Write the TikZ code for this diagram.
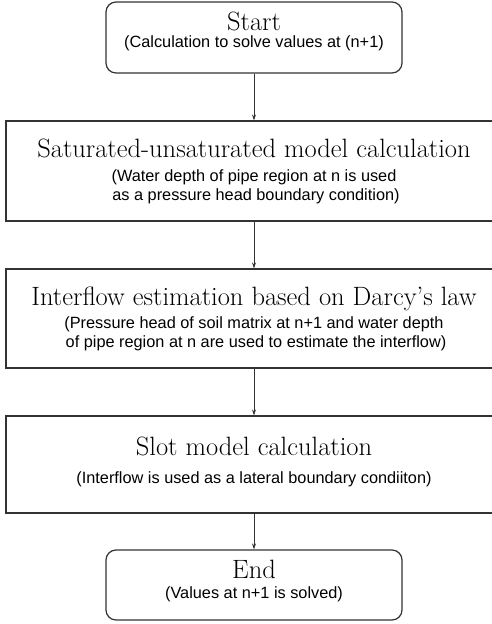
\documentclass[tikz,border=0pt]{standalone}
\usepackage{fontspec}
\newfontfamily\subfont{Liberation Sans}
\usetikzlibrary{arrows.meta}
\begin{document}
\begin{tikzpicture}[x=1pt,y=-1pt,
  boxline/.style={draw=black!80,line width=1.2pt,inner sep=0pt},
  termbox/.style={boxline,rounded corners=10pt,minimum width=296pt},
  procbox/.style={boxline,minimum width=494pt},
  titletext/.style={anchor=base,inner sep=0pt,font=\fontsize{26.5}{30}\selectfont},
  subtext/.style={anchor=base,inner sep=0pt,font=\subfont\fontsize{16.3}{19}\selectfont},
  arr/.style={draw=black!80,line width=0.7pt,-{Stealth[length=6pt,width=4pt]}}]
\useasboundingbox (0,0) rectangle (491,624);
\fill[white] (0,0) rectangle (491,624);
% boxes
\node[termbox,minimum height=71pt] (start) at (254,37.5) {};
\node[procbox,minimum height=100pt] (b1) at (253,171) {};
\node[procbox,minimum height=99pt] (b2) at (253,318.5) {};
\node[procbox,minimum height=97pt] (b3) at (253,464.5) {};
\node[termbox,minimum height=70pt] (end) at (254,585) {};
% texts
\node[titletext] (t0) at (254,30) {Start};
\node[subtext] (s0) at (254,47) {(Calculation to solve values at (n+1)};
\node[titletext] (t1) at (254,157) {Saturated-unsaturated model calculation};
\node[subtext] (s1a) at (254,181) {(Water depth of pipe region at n is used};
\node[subtext] (s1b) at (256,200) {as a pressure head boundary condition)};
\node[titletext] (t2) at (254,305) {Interflow estimation based on Darcy's law};
\node[subtext] (s2a) at (254,328) {(Pressure head of soil matrix at n+1 and water depth};
\node[subtext] (s2b) at (256,347) {of pipe region at n are used to estimate the interflow)};
\node[titletext] (t3) at (254,455) {Slot model calculation};
\node[subtext] (s3) at (254,483) {(Interflow is used as a lateral boundary condiiton)};
\node[titletext] (t4) at (254,578) {End};
\node[subtext] (s4) at (254,598) {(Values at n+1 is solved)};
% connectors
\draw[arr] (start.south) -- (b1.north -| start.south);
\draw[arr] (b1.south -| start.south) -- (b2.north -| start.south);
\draw[arr] (b2.south -| start.south) -- (b3.north -| start.south);
\draw[arr] (b3.south -| start.south) -- (end.north);
\end{tikzpicture}
\end{document}
